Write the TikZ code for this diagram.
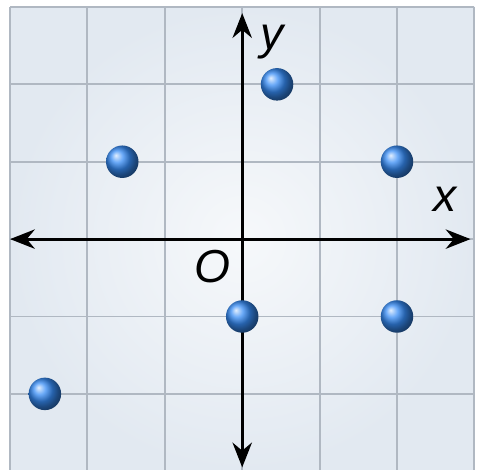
\documentclass[tikz,border=0pt]{standalone}
\usepackage{fontspec}
\setmainfont{Liberation Sans}
\usetikzlibrary{arrows.meta}
\definecolor{gridgray}{RGB}{176,184,194}
\definecolor{paper}{RGB}{226,233,241}
\definecolor{dotblue}{RGB}{55,140,245}

\begin{document}
\begin{tikzpicture}[x=1cm, y=1cm,
    dot/.style={circle, inner sep=0pt, minimum size=0.42cm,
                shading=ball, ball color=dotblue},
    axis/.style={line width=1.1pt,
                 {Stealth[length=0.32cm,width=0.25cm]}-{Stealth[length=0.32cm,width=0.25cm]}},
    lbl/.style={font=\fontsize{17}{20}\selectfont\itshape}]
  \useasboundingbox (-3.13,-2.98) rectangle (3.06,3.09);
  \clip (-3.13,-2.98) rectangle (3.06,3.09);
  % grid paper
  \shade[inner color=white!70!paper, outer color=paper] (-3,-3) rectangle (3,3);
  \draw[gridgray, line width=0.7pt] (-3,-3) grid (3,3);
  % axes
  \coordinate (xl) at (-3.0,0);
  \coordinate (xr) at (2.95,0);
  \coordinate (yb) at (0,-2.95);
  \coordinate (yt) at (0,2.92);
  \draw[axis] (xl) -- (xr);
  \draw[axis] (yb) -- (yt);
  \node[lbl] (xlab) at (2.62,0.51) {x};
  \node[lbl] (ylab) at (0.38,2.55) {y};
  \node[lbl] (olab) at (-0.38,-0.36) {O};
  % points
  \node[dot] (p1) at (0.45,2) {};
  \node[dot] (p2) at (-1.55,1) {};
  \node[dot] (p3) at (2,1) {};
  \node[dot] (p4) at (0,-1) {};
  \node[dot] (p5) at (2,-1) {};
  \node[dot] (p6) at (-2.55,-2) {};
\end{tikzpicture}
\end{document}
